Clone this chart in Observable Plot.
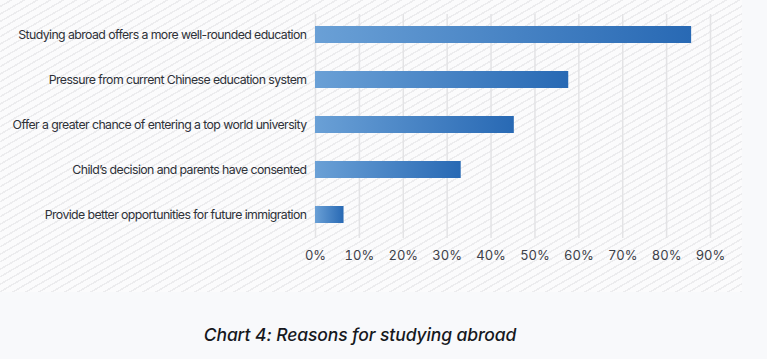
<!DOCTYPE html>
<html>
<head>
<meta charset="utf-8">
<script src="https://cdn.jsdelivr.net/npm/d3@7"></script>
<script src="https://cdn.jsdelivr.net/npm/@observablehq/plot@0.6"></script>
<style>
  html, body { margin: 0; padding: 0; }
  body { width: 767px; height: 359px; overflow: hidden; background: #f8f9fb; font-family: Inter, "Noto Sans", sans-serif; }
  #wrap { position: relative; width: 767px; height: 359px; }
  #hatch { position: absolute; left: 0; top: 0; width: 742px; height: 292px;
    background: repeating-linear-gradient(150deg, #fbfbfc 0px, #fbfbfc 5px, #ececee 5px, #ececee 6.5px); }
  #chart { position: absolute; left: 0; top: 0; }
  #title { position: absolute; left: 0; width: 720px; top: 324px; text-align: center;
    font-style: italic; font-size: 17.5px; font-weight: 500; color: #16181d; letter-spacing: -0.1px; }
  .ylab text { letter-spacing: -0.58px; }
</style>
</head>
<body>
<div id="wrap">
  <div id="hatch"></div>
  <div id="chart"></div>
  <div id="title">Chart 4: Reasons for studying abroad</div>
</div>
<script>
const reasons = [
  "Studying abroad offers a more well-rounded education",
  "Pressure from current Chinese education system",
  "Offer a greater chance of entering a top world university",
  "Child’s decision and parents have consented",
  "Provide better opportunities for future immigration"
];
const values = [85.7, 57.7, 45.3, 33.2, 6.5];
const xTicks = [0, 10, 20, 30, 40, 50, 60, 70, 80, 90];

const data = reasons.map((r, i) => ({reason: r, value: values[i]}));

const gradientDefs = () => {
  const defs = d3.create("svg:defs");
  const g = defs.append("linearGradient").attr("id", "barGrad").attr("x1", "0").attr("x2", "1").attr("y1", "0").attr("y2", "0");
  g.append("stop").attr("offset", "0%").attr("stop-color", "#6aa0d6");
  g.append("stop").attr("offset", "100%").attr("stop-color", "#2869b4");
  return defs.node();
};

const chart = Plot.plot({
  width: 767,
  height: 270,
  marginLeft: 315,
  marginRight: 57,
  marginTop: 12,
  marginBottom: 33,
  style: {background: "transparent", fontFamily: "Inter, 'Noto Sans', sans-serif", overflow: "visible"},
  x: {domain: [0, 90], ticks: xTicks, tickFormat: d => d + "%", label: null},
  y: {domain: reasons, label: null, paddingInner: 0.63, paddingOuter: 0.315},
  marks: [
    gradientDefs,
    Plot.gridX(xTicks, {stroke: "#e3e3e5", strokeWidth: 1.5, strokeOpacity: 1, insetTop: 2, insetBottom: -1}),
    Plot.barX(data, {x: "value", y: "reason", fill: "url(#barGrad)"}),
    Plot.axisX({ticks: xTicks, tickFormat: d => d + "%", tickSize: 0, tickPadding: 13, fontSize: 13, fill: "#3d4048", label: null}),
    Plot.axisY({tickSize: 0, tickPadding: 9, fontSize: 12.3, fill: "#2e3138", label: null, className: "ylab"})
  ]
});
document.getElementById("chart").appendChild(chart);
</script>
</body>
</html>
